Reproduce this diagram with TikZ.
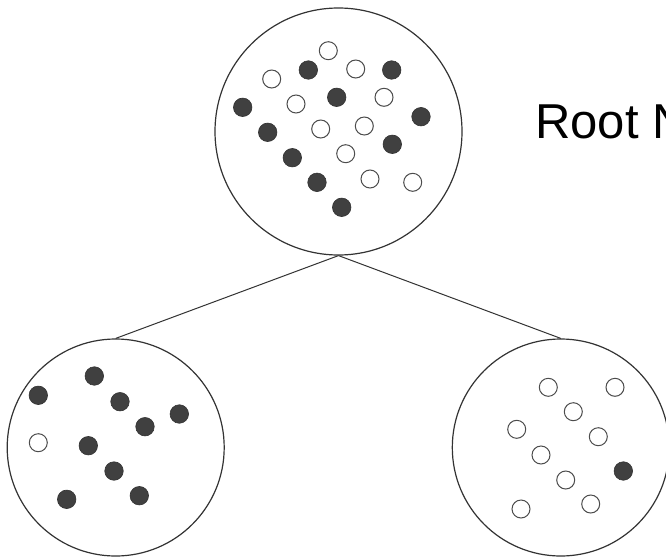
\documentclass[tikz,border=0pt]{standalone}
\usepackage{fontspec}
\setmainfont{Liberation Sans}
\begin{document}
\begin{tikzpicture}[x=1pt,y=-1pt,
  bigc/.style={circle, draw=black!80, line width=1.2pt, inner sep=0pt, fill=white},
  conn/.style={draw=black!80, line width=1pt},
  fdot/.style={circle, fill=black!75, draw=black!80, line width=0.6pt, minimum size=18.5pt, inner sep=0pt},
  hdot/.style={circle, fill=white, draw=black!70, line width=1pt, minimum size=18pt, inner sep=0pt}]
\useasboundingbox (0,0) rectangle (666,557);
\clip (0,0) rectangle (666,557);
\fill[white] (0,0) rectangle (666,557);
\node[bigc, minimum size=247pt] (root) at (338.5,131.5) {};
\node[bigc, minimum size=217pt] (leftc) at (115.7,447.5) {};
\node[bigc, minimum size=217pt] (rightc) at (560.8,447.5) {};
\draw[conn] (root.south) -- (leftc.north);
\draw[conn] (root.south) -- (rightc.north);
% root dots
\foreach \x/\y [count=\i] in {308.3/70, 391.7/70, 242.7/107.3, 336.7/97.3, 421/116.7, 267.7/132.3, 392.3/144.3, 292.3/157.7, 317/182.3, 341.7/207.3}
  \node[fdot] (rf\i) at (\x,\y) {};
\foreach \x/\y [count=\i] in {328.3/50.7, 355.7/69, 271.7/79, 296/104, 384/97.3, 320.7/129, 364.3/126, 345.7/153.7, 370/179, 412.7/182.3}
  \node[hdot] (rh\i) at (\x,\y) {};
% left dots
\foreach \x/\y [count=\i] in {94.3/376, 38.3/395.3, 120/401.7, 179.3/414, 145/426.7, 88.3/445.7, 114/471, 66.7/499.3, 139.3/495.7}
  \node[fdot] (lf\i) at (\x,\y) {};
\node[hdot] (lh1) at (38.3,442.7) {};
% right dots
\foreach \x/\y [count=\i] in {548.3/387.3, 615/387.3, 573.3/411.7, 516.7/429.3, 598.3/436.7, 541/455, 565.7/480, 521/509, 590.7/504}
  \node[hdot] (rgh\i) at (\x,\y) {};
\node[fdot] (rgf1) at (623.3,471) {};
\node[anchor=base west, inner sep=0pt, font=\fontsize{49}{58}\selectfont] (label) at (535,138) {Root N};
\end{tikzpicture}
\end{document}
